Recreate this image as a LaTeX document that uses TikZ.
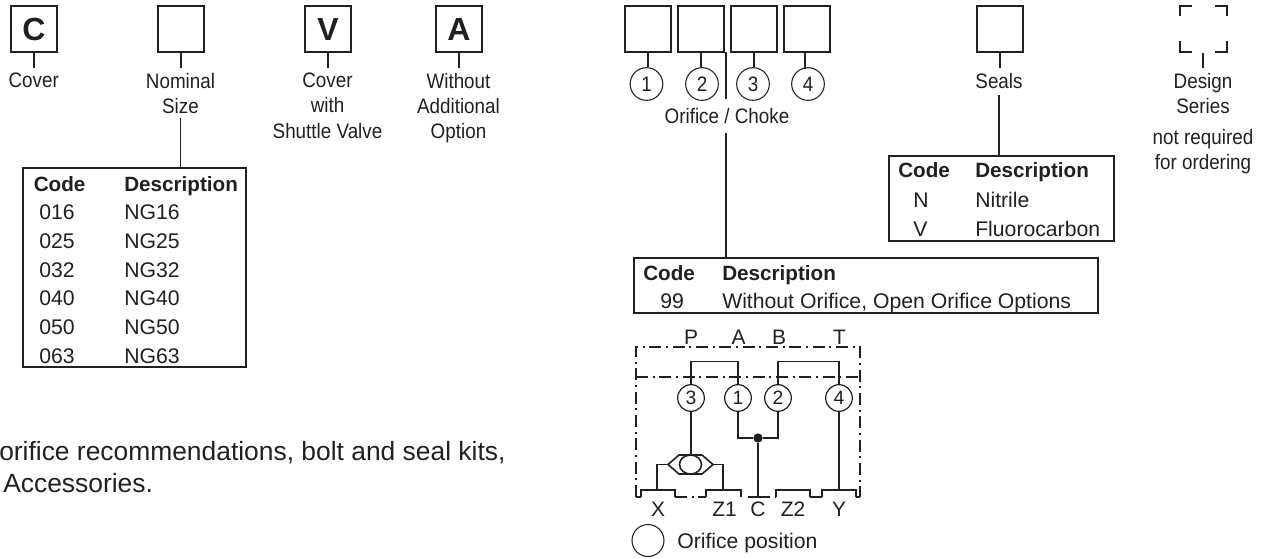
\documentclass[tikz,border=0pt]{standalone}
\usepackage{fontspec}
\setmainfont{Liberation Sans}
\newfontfamily\narrowf[FakeStretch=0.9]{Liberation Sans}
\definecolor{ink}{HTML}{231F20}
\tikzset{
  x=0.75pt,y=-0.75pt,
  line/.style={draw=ink,line width=1.2pt},
  box/.style={draw=ink,line width=1.5pt,minimum width=34.5pt,minimum height=34.5pt,inner sep=0pt,anchor=north west,text=ink,font=\fontsize{24}{24}\selectfont\bfseries},
  tbl/.style={draw=ink,line width=1.5pt,anchor=north west,inner sep=0pt},
  lab/.style={text=ink,inner sep=0pt,outer sep=0pt,anchor=north,align=center,font=\narrowf\fontsize{15.7}{18.9}\selectfont},
  num/.style={circle,draw=ink,line width=0.8pt,minimum size=24.5pt,inner sep=0pt,text=ink,font=\narrowf\fontsize{15.7}{16}\selectfont},
  snum/.style={circle,draw=ink,line width=0.9pt,minimum size=20pt,inner sep=0pt,text=ink,font=\fontsize{14.5}{16}\selectfont},
  txt/.style={text=ink,inner sep=0pt,anchor=base west,font=\fontsize{15.9}{18}\selectfont},
  hd/.style={txt,font=\fontsize{15.5}{18}\selectfont\bfseries},
  sch/.style={txt,anchor=base,font=\fontsize{15.7}{18}\selectfont},
  note/.style={txt,font=\fontsize{19.8}{24}\selectfont},
  dd/.style={draw=ink,line width=1pt,dash pattern=on 9pt off 3.5pt on 1.5pt off 3.5pt},
  dot/.style={circle,fill=ink,inner sep=0pt,minimum size=7pt},
}
\begin{document}
\begin{tikzpicture}
\useasboundingbox (0,0) rectangle (1265,558);
% top boxes
\node[box] (bC) at (10,5) {C};
\node[box] (bN) at (157,5) {};
\node[box] (bV) at (304,5) {V};
\node[box] (bA) at (435,5) {A};
\node[box] (o1) at (624,5) {};
\node[box] (o2) at (677,5) {};
\node[box] (o3) at (730,5) {};
\node[box] (o4) at (783,5) {};
\node[box] (bS) at (976,5) {};
% design series corners
\draw[draw=ink,line width=1.5pt] (1180,16)--(1180,5.5)--(1192,5.5) (1215,5.5)--(1227,5.5)--(1227,16) (1180,41)--(1180,52)--(1192,52) (1215,52)--(1227,52)--(1227,41);
% labels
\node[lab] (lC) at (33.7,73) {Cover};
\node[lab] (lN) at (180.5,73) {Nominal\\Size};
\node[lab] (lV) at (327.5,73) {Cover\\with\\Shuttle Valve};
\node[lab] (lA) at (458.5,73) {Without\\Additional\\Option};
\node[lab] (lS) at (999,73) {Seals};
\node[lab] (lD) at (1203,73) {Design\\Series};
\node[lab] (lR) at (1203,129) {not required\\for ordering};
\node[lab] (lO) at (727,108) {Orifice / Choke};
\coordinate (dS) at (1203,53);
\coordinate (dE) at (1203,68);
\draw[line] (dS) -- (dE);
\draw[line] (bC.south) -- ++(0,15);
\draw[line] (bN.south) -- ++(0,15);
\draw[line] (bV.south) -- ++(0,15);
\draw[line] (bA.south) -- ++(0,15);
\draw[line] (bS.south) -- ++(0,15);
% numbered circles
\node[num] (c1) at (646.5,84) {1};
\node[num] (c2) at (702,84) {2};
\node[num] (c3) at (753,84) {3};
\node[num] (c4) at (808,84) {4};
\draw[line] (o1.south) -- (o1.south |- c1.north);
\draw[line] (o2.south) -- (o2.south |- c2.north);
\draw[line] (o3.south) -- (o3.south |- c3.north);
\draw[line] (805,53) -- (805,69);
% tables
\node[tbl,minimum width=167.5pt,minimum height=149.5pt] (t1) at (22,167) {};
\node[tbl,minimum width=168.5pt,minimum height=64pt] (t2) at (888,155) {};
\node[tbl,minimum width=348.5pt,minimum height=41.5pt] (t3) at (632.5,257) {};
\draw[line] (180.5,118) -- (180.5,167);
\draw[line] (999,95) -- (999,155);
\draw[line] (726,52) -- (726,99);
\draw[line] (726,133) -- (726,257);
% table 1
\node[hd] (h1a) at (33.5,191) {Code};
\node[hd] (h1b) at (124,191) {Description};
\foreach \y/\c/\d in {219/016/NG16,248/025/NG25,277/032/NG32,305/040/NG40,334/050/NG50,363/063/NG63}{
  \node[txt] at (39,\y) {\c};
  \node[txt] at (124,\y) {\d};
}
% table 2
\node[hd] (h2a) at (898,177) {Code};
\node[hd] (h2b) at (975,177) {Description};
\node[txt] at (913,207) {N};
\node[txt] at (913,236) {V};
\node[txt] at (975,207) {Nitrile};
\node[txt] at (975,236) {Fluorocarbon};
% table 3
\node[hd] (h3a) at (643,280) {Code};
\node[hd] (h3b) at (722,280) {Description};
\node[txt] at (660,308) {99};
\node[txt] at (722,308) {Without Orifice, Open Orifice Options};
% note
\node[note] at (-1,460) {orifice recommendations, bolt and seal kits,};
\node[note] at (3,492) {Accessories.};
% schematic
\foreach \n/\x in {P/691,A/738.5,B/779,T/839.5}{\node[sch] at (\x,344) {\n};}
\draw[dd] (636,497)--(636,347)--(860,347)--(860,497);
\draw[dd] (636,377)--(860,377);
\node[snum] (s3) at (691,398) {3};
\node[snum] (s1) at (738,398) {1};
\node[snum] (s2) at (778,398) {2};
\node[snum] (s4) at (839,398) {4};
\node[dot] (j) at (758,438) {};
\draw[line] (s3) -- (691,361.5) -- (738,361.5) -- (s1);
\draw[line] (s2) -- (778,361.5) -- (839,361.5) -- (s4);
\draw[line] (s1) -- (738,438) -- (j) -- (778,438) -- (s2);
\coordinate (cb) at (758,497);
\draw[line] (j) -- (cb);
\draw[line] (s3) -- (691,455);
\coordinate (ssL) at (668,464.5);
\coordinate (ssR) at (713,464.5);
\draw[line] (ssL)--(679,455)--(702,455)--(ssR)--(702,474)--(679,474)--cycle;
\draw[line] (690.5,464.5) ellipse [x radius=11,y radius=9.5];
\draw[line] (ssL) -- (657,464.5) -- (657,490);
\draw[line] (ssR) -- (723,464.5) -- (723,490);
\draw[line] (s4) -- (839,490);
\draw[line] (641,497)--(641,490)--(675,490)--(675,497);
\draw[line] (706,497)--(706,490)--(741,490)--(741,497);
\draw[line] (776,497)--(776,490)--(810,490)--(810,497);
\draw[line] (822,497)--(822,490)--(856,490)--(856,497);
\draw[dd] (636,497)--(641,497) (675,497)--(706,497) (758,497)--(748,497) (758,497)--(776,497) (810,497)--(822,497) (856,497)--(860,497);
\foreach \n/\x in {X/658,Z1/724.5,C/758,Z2/793,Y/839}{\node[sch] at (\x,516) {\n};}
\node[circle,draw=ink,line width=0.8pt,minimum size=24pt,inner sep=0pt] (oc) at (648,540.5) {};
\node[txt] (ot) at (677,548) {Orifice position};
\end{tikzpicture}
\end{document}
